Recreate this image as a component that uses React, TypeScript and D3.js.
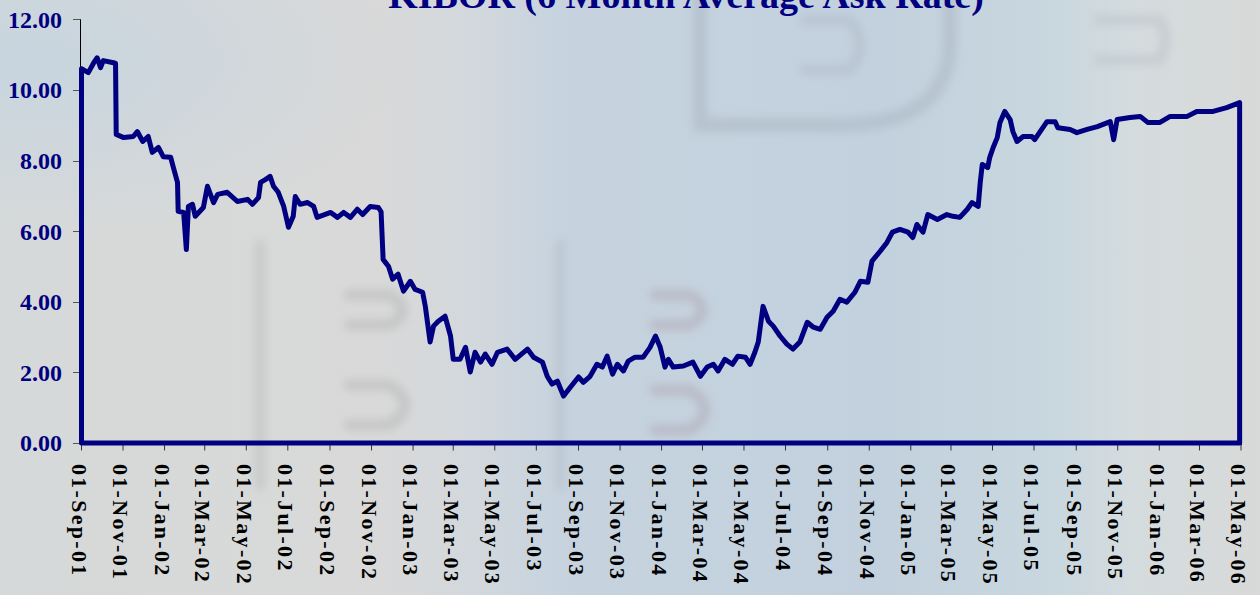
import React from "react";
import * as d3 from "d3";

const title = "KIBOR (6 Month Average Ask Rate)";

const dates = [
  "2001-09-01","2001-09-11","2001-09-19","2001-09-24","2001-09-29","2001-10-03","2001-10-18","2001-10-21","2001-10-22",
  "2001-11-02","2001-11-16","2001-11-22","2001-11-30","2001-12-08","2001-12-14","2001-12-23","2001-12-30",
  "2002-01-10","2002-01-14","2002-01-20","2002-01-21","2002-01-29","2002-02-02","2002-02-05","2002-02-11","2002-02-15","2002-02-27",
  "2002-03-05","2002-03-14","2002-03-20","2002-04-03","2002-04-18","2002-05-03","2002-05-10","2002-05-19","2002-05-22","2002-05-29",
  "2002-06-05","2002-06-10","2002-06-17","2002-06-25","2002-07-02","2002-07-09","2002-07-12","2002-07-19","2002-07-30",
  "2002-08-08","2002-08-13","2002-09-02","2002-09-12","2002-09-21","2002-10-01","2002-10-11","2002-10-19","2002-10-30",
  "2002-11-11","2002-11-15","2002-11-18","2002-11-26","2002-12-02","2002-12-10","2002-12-18","2002-12-28",
  "2003-01-04","2003-01-15","2003-01-19","2003-01-26","2003-01-31","2003-02-07","2003-02-17","2003-02-25",
  "2003-03-01","2003-03-11","2003-03-19","2003-03-26","2003-04-02","2003-04-10","2003-04-17","2003-04-27",
  "2003-05-05","2003-05-19","2003-05-31","2003-06-18","2003-06-27","2003-07-10","2003-07-17","2003-07-24",
  "2003-08-01","2003-08-10","2003-08-20","2003-09-01","2003-09-08","2003-09-18","2003-09-28",
  "2003-10-06","2003-10-13","2003-10-21","2003-10-28","2003-11-06","2003-11-13","2003-11-23",
  "2003-12-05","2003-12-15","2003-12-23","2003-12-30","2004-01-06","2004-01-11","2004-01-18",
  "2004-02-02","2004-02-16","2004-02-27","2004-03-08","2004-03-17","2004-03-24","2004-04-03","2004-04-14","2004-04-22",
  "2004-05-03","2004-05-10","2004-05-17","2004-05-22","2004-05-29","2004-06-06","2004-06-13","2004-06-23",
  "2004-07-03","2004-07-12","2004-07-22","2004-08-02","2004-08-11","2004-08-21","2004-08-31",
  "2004-09-09","2004-09-19","2004-09-29","2004-10-11","2004-10-19","2004-10-30","2004-11-05","2004-11-17","2004-11-27",
  "2004-12-05","2004-12-16","2004-12-28","2005-01-04","2005-01-10","2005-01-19","2005-01-26","2005-02-09","2005-02-23",
  "2005-03-04","2005-03-14","2005-03-25","2005-04-01","2005-04-10","2005-04-13","2005-04-16","2005-04-24","2005-04-27",
  "2005-05-02","2005-05-08","2005-05-12","2005-05-19","2005-05-27","2005-05-31","2005-06-06","2005-06-15","2005-06-28",
  "2005-07-02","2005-07-10","2005-07-20","2005-08-01","2005-08-05","2005-08-23","2005-09-02","2005-09-17",
  "2005-10-02","2005-10-21","2005-10-26","2005-10-31","2005-11-19","2005-12-04","2005-12-15",
  "2006-01-02","2006-01-17","2006-02-11","2006-02-25","2006-03-21","2006-04-10","2006-04-29"
];

const rates = [
  10.60,10.49,10.77,10.91,10.63,10.83,10.77,10.75,8.74,
  8.65,8.68,8.82,8.54,8.68,8.23,8.37,8.11,
  8.09,7.80,7.38,6.56,6.53,5.48,6.70,6.76,6.42,6.67,
  7.27,6.81,7.04,7.10,6.84,6.90,6.76,6.95,7.38,7.46,
  7.55,7.27,7.10,6.70,6.11,6.42,6.98,6.76,6.81,
  6.70,6.39,6.53,6.39,6.53,6.39,6.62,6.47,6.70,
  6.67,6.55,5.20,5.00,4.64,4.78,4.30,4.58,
  4.35,4.27,3.87,2.86,3.31,3.45,3.59,3.03,
  2.37,2.37,2.71,2.01,2.57,2.29,2.52,2.23,
  2.57,2.66,2.37,2.66,2.43,2.29,1.89,1.67,
  1.75,1.33,1.58,1.87,1.72,1.89,2.23,
  2.15,2.46,1.95,2.23,2.04,2.32,2.43,
  2.43,2.71,3.03,2.71,2.15,2.37,2.15,
  2.18,2.29,1.89,2.15,2.23,2.04,2.37,2.23,2.46,
  2.43,2.23,2.57,2.86,3.87,3.45,3.31,3.03,
  2.80,2.66,2.86,3.42,3.28,3.22,3.56,
  3.73,4.07,3.99,4.27,4.58,4.55,5.15,5.43,5.68,
  5.97,6.05,5.97,5.82,6.19,5.97,6.47,6.33,6.47,
  6.42,6.39,6.62,6.81,6.70,7.38,7.89,7.80,8.09,
  8.37,8.65,9.08,9.39,9.16,8.82,8.54,8.68,8.68,
  8.59,8.82,9.10,9.10,8.93,8.88,8.79,8.88,
  8.96,9.10,8.59,9.16,9.22,9.25,9.08,
  9.08,9.25,9.25,9.39,9.39,9.50,9.64
];

const xTickLabels = [
  "01-Sep-01","01-Nov-01","01-Jan-02","01-Mar-02","01-May-02","01-Jul-02","01-Sep-02","01-Nov-02",
  "01-Jan-03","01-Mar-03","01-May-03","01-Jul-03","01-Sep-03","01-Nov-03","01-Jan-04","01-Mar-04",
  "01-May-04","01-Jul-04","01-Sep-04","01-Nov-04","01-Jan-05","01-Mar-05","01-May-05","01-Jul-05",
  "01-Sep-05","01-Nov-05","01-Jan-06","01-Mar-06","01-May-06"
];

const yTicks = [0, 2, 4, 6, 8, 10, 12];

export default function App() {
  const W = 1260;
  const H = 595;
  const parse = d3.timeParse("%Y-%m-%d");
  const parseTick = d3.timeParse("%d-%b-%y");
  const tickDates = xTickLabels.map((t) => parseTick(t) as Date);

  const x = d3
    .scaleTime()
    .domain([tickDates[0], tickDates[tickDates.length - 1]])
    .range([81.5, 1241]);
  const y = d3.scaleLinear().domain([0, 12]).range([443, 19.3]);

  const data = dates.map((d, i) => ({ date: parse(d) as Date, v: rates[i] }));
  const area = d3
    .area<{ date: Date; v: number }>()
    .x((d) => x(d.date))
    .y0(y(0))
    .y1((d) => y(d.v));
  const path = area(data) || "";

  const axisY = 444.5;
  const axisX = 80.5;

  return (
    <svg
      width={W}
      height={H}
      style={{ position: "absolute", left: 0, top: 0, display: "block" }}
    >
      <defs>
        <linearGradient id="bgH" x1="0" y1="0" x2="1" y2="0">
          <stop offset="0" stopColor="#d6d9d9" />
          <stop offset="0.3" stopColor="#d9d9d9" />
          <stop offset="0.37" stopColor="#d3d8dc" />
          <stop offset="0.45" stopColor="#c6d3df" />
          <stop offset="0.7" stopColor="#c3d1de" />
          <stop offset="0.84" stopColor="#c9d7df" />
          <stop offset="0.9" stopColor="#d5dcde" />
          <stop offset="1" stopColor="#d8d9d9" />
        </linearGradient>
        <radialGradient id="tl" cx="0.02" cy="0.1" r="0.3">
          <stop offset="0" stopColor="#c4d4e0" stopOpacity="0.8" />
          <stop offset="1" stopColor="#c4d4e0" stopOpacity="0" />
        </radialGradient>
        <filter id="blur" x="-20%" y="-20%" width="140%" height="140%">
          <feGaussianBlur stdDeviation="5" />
        </filter>
      </defs>
      <rect x={0} y={0} width={W} height={H} fill="url(#bgH)" />
      <rect x={0} y={0} width={W} height={H} fill="url(#tl)" />
      {/* faint watermark shapes */}
      <g filter="url(#blur)" fill="none" strokeOpacity={0.35}>
        <path d="M700,-20 L700,125 L840,125 Q950,125 950,40 L950,-20" stroke="#9aa7b3" strokeWidth={14} />
        <path d="M1095,20 L1160,20 Q1170,40 1160,60 L1095,60" stroke="#aab3bd" strokeWidth={10} />
        <path d="M800,20 L850,20 Q870,45 850,70 L800,70" stroke="#a3acb6" strokeWidth={10} />
        <path d="M260,240 L260,490" stroke="#a8a8a8" strokeWidth={10} />
        <path d="M560,240 L560,490" stroke="#a8b0b8" strokeWidth={10} />
        <path d="M650,295 L690,295 Q715,310 690,325 L650,325" stroke="#a08c96" strokeWidth={10} />
        <path d="M650,390 L690,390 Q720,410 690,430 L650,430" stroke="#a08c96" strokeWidth={10} />
        <path d="M345,295 L390,295 Q415,310 390,325 L345,325" stroke="#9f9f9f" strokeWidth={10} />
        <path d="M345,385 L390,385 Q420,405 390,425 L345,425" stroke="#9f9f9f" strokeWidth={10} />
      </g>

      {/* title */}
      <text
        x={686}
        y={8}
        textAnchor="middle"
        fontFamily="'Liberation Serif', 'Times New Roman', serif"
        fontWeight="bold"
        fontSize={38}
        fill="#000080"
      >
        {title}
      </text>

      {/* axes */}
      <line x1={axisX} y1={19} x2={axisX} y2={axisY} stroke="#000" strokeWidth={1} />
      <line x1={axisX} y1={axisY} x2={1242} y2={axisY} stroke="#000" strokeWidth={1} />
      {yTicks.map((t) => (
        <g key={"y" + t}>
          <line x1={73} x2={axisX} y1={Math.round(y(t)) + 0.5} y2={Math.round(y(t)) + 0.5} stroke="#555" strokeWidth={1} />
          <text
            x={62}
            y={y(t)}
            dy="0.35em"
            textAnchor="end"
            fontFamily="'Liberation Serif', 'Times New Roman', serif"
            fontWeight="bold"
            fontSize={24}
            fill="#000080"
          >
            {t.toFixed(2)}
          </text>
        </g>
      ))}
      {tickDates.map((d, i) => {
        const px = x(d);
        return (
          <g key={"x" + i}>
            <line x1={px} x2={px} y1={axisY} y2={axisY + 6} stroke="#333" strokeWidth={1} />
            <text
              transform={`translate(${px - 2},${464}) rotate(90)`}
              dy="0.35em"
              textAnchor="start"
              fontFamily="'Liberation Serif', 'Times New Roman', serif"
              fontWeight="bold"
              fontSize={22}
              letterSpacing={2.3}
              fill="#000"
            >
              {xTickLabels[i]}
            </text>
          </g>
        );
      })}

      {/* series outline (area border) */}
      <path
        d={path}
        fill="none"
        stroke="#000080"
        strokeWidth={5}
        strokeLinejoin="round"
        strokeLinecap="round"
      />
    </svg>
  );
}
